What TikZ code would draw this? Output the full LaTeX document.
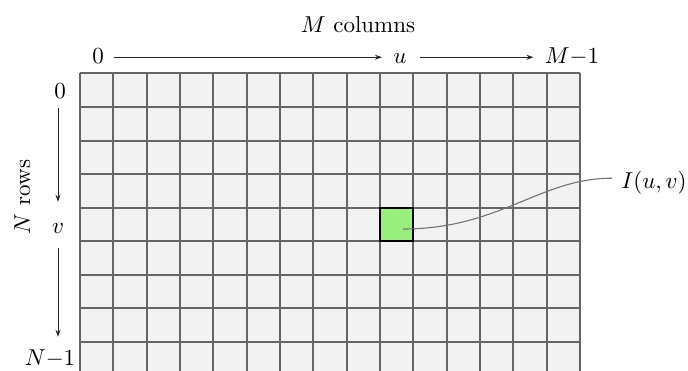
\documentclass[tikz,border=0pt]{standalone}
\usetikzlibrary{arrows.meta}
\definecolor{cellgreen}{HTML}{98F07A}
\definecolor{gridfill}{HTML}{F2F2F2}
\begin{document}
\begin{tikzpicture}[x=1pt,y=-1pt,
  lbl/.style={scale=2.3, inner sep=0pt, text height=6pt, text depth=1pt, anchor=base},
  gridline/.style={draw=black!60, line width=1.6pt},
  arr/.style={-{Stealth[length=7pt,width=5pt]}, line width=0.9pt, draw=black!85},
  link/.style={draw=black!55, line width=1.1pt},
  pixelcell/.style={draw=black, line width=1.8pt, fill=cellgreen, minimum width=33pt, minimum height=33pt, inner sep=0pt}
]
\useasboundingbox (0,0) rectangle (688,370);
\clip (0,0) rectangle (688,370);
% grid
\fill[gridfill] (80,73) rectangle (580,380);
\foreach \x in {80,113,147,180,213,247,280,313,347,380,413,447,480,513,547,580}
  \draw[gridline] (\x,73) -- (\x,380);
\foreach \y in {73,107,141,174,208,241,275,308,342,376}
  \draw[gridline] (80,\y) -- (580,\y);
% highlighted pixel
\node[pixelcell] (cell) at (396.5,224.5) {};
% column labels
\node[lbl] (mcol) at (358,32) {$M$ columns};
\node[lbl] (c0) at (98,63) {$0$};
\node[lbl] (u) at (400,63) {$u$};
\node[lbl] (M1) at (572,63) {$M{-}1$};
\draw[arr, shorten <=10pt, shorten >=11pt] (c0.east) -- (u.west);
\draw[arr, shorten <=13pt, shorten >=11pt] (u.east) -- (M1.west);
% row labels
\node[lbl, rotate=90] (nrows) at (30,197) {$N$ rows};
\node[lbl] (r0) at (60,98) {$0$};
\node[lbl] (v) at (58,233) {$v$};
\node[lbl] (N1) at (50,365) {$N{-}1$};
\draw[arr, shorten <=7pt, shorten >=17pt] (v.north |- r0.south) -- (v.north);
\draw[arr, shorten <=12pt, shorten >=14pt] (v.south) -- (v.south |- N1.north);
% value label
\node[lbl, anchor=base west] (I) at (621,188) {$I(u,v)$};
\draw[link, shorten >=9pt] ([xshift=6.5pt,yshift=-4.5pt]cell.center) .. controls (500,229) and (540,178) .. ([yshift=4pt]I.west);
\end{tikzpicture}
\end{document}
